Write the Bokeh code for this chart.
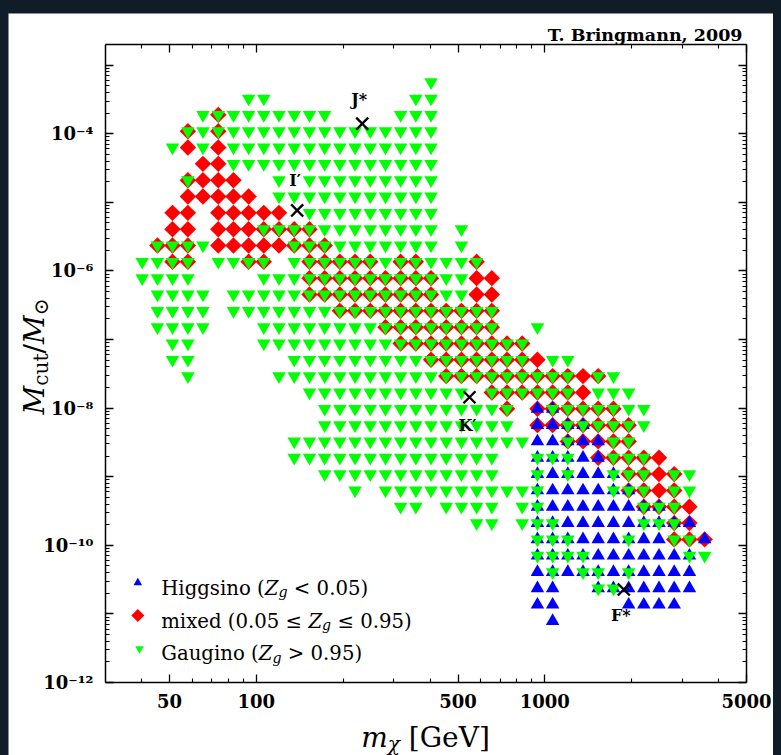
import math
import os
import glob

from bokeh.plotting import figure
from bokeh.models import (ColumnDataSource, Range1d, FixedTicker, LogAxis, Label,
                          LinearScale, CustomJSTickFormatter)
from bokeh.core.properties import value
from bokeh.embed import file_html
from bokeh.resources import INLINE

# ------------------------------------------------------------------ data
# neutralino mass grid (GeV): column centres of the scan
M_CHI_GRID = [40.2, 45.4, 51.2, 57.9, 65.3, 73.8, 83.3, 94.0, 106.1, 119.8,
              135.3, 152.8, 172.5, 194.7, 219.8, 248.2, 280.2, 316.3, 357.1, 403.1,
              455.1, 513.8, 580.1, 654.9, 739.4, 834.7, 942.5, 1064, 1201, 1356,
              1531, 1729, 1952, 2203, 2487, 2808, 3171, 3580]
# cutoff mass grid (solar masses): row centres of the scan (top to bottom)
M_CUT_GRID = [5.64e-4, 3.26e-4, 1.885e-4, 1.089e-4, 6.30e-5, 3.64e-5, 2.104e-5, 1.216e-5,
              7.03e-6, 4.06e-6, 2.349e-6, 1.358e-6, 7.85e-7, 4.54e-7, 2.62e-7, 1.516e-7,
              8.76e-8, 5.06e-8, 2.93e-8, 1.692e-8, 9.78e-9, 5.65e-9, 3.27e-9, 1.889e-9,
              1.092e-9, 6.31e-10, 3.65e-10, 2.109e-10, 1.219e-10, 7.05e-11, 4.07e-11,
              2.354e-11, 1.361e-11, 7.87e-12]

# occupied cells per row (index into M_CUT_GRID), as inclusive column-index runs
HIGGSINO_RUNS = [
    [], [], [], [], [], [], [], [], [], [],
    [], [], [], [], [], [], [], [], [], [],
    [(26, 27)],
    [(26, 29)],
    [(26, 30)],
    [(26, 30)],
    [(26, 31)],
    [(26, 32)],
    [(26, 34)],
    [(26, 36)],
    [(26, 34), (37, 37)],
    [(26, 36)],
    [(26, 36)],
    [(26, 27), (30, 36)],
    [(26, 27), (32, 35)],
    [(27, 27)],
]
MIXED_RUNS = [
    [], [], [(5, 5)], [(3, 3), (5, 5)], [(3, 3), (5, 5)], [(4, 5)], [(3, 6)], [(3, 7)],
    [(2, 3), (5, 9)], [(2, 3), (5, 11)], [(1, 3), (5, 12)],
    [(2, 3), (7, 8), (11, 15), (17, 18), (22, 22)],
    [(11, 19), (22, 23)], [(11, 19), (22, 23)], [(13, 23)], [(16, 23)], [(17, 25)],
    [(19, 26)], [(20, 30)], [(23, 29)],
    [(24, 24), (26, 31)], [(26, 32)], [(28, 32)], [(30, 34)], [(32, 35)], [(32, 35)],
    [(33, 36)], [(35, 36)], [(35, 37)],
    [], [], [], [], [],
]
GAUGINO_RUNS = [
    [(19, 19)],
    [(7, 8), (18, 19)],
    [(4, 12), (17, 19)],
    [(3, 19)],
    [(2, 2), (4, 4), (6, 19)],
    [(6, 19)],
    [(3, 3), (9, 9), (11, 19)],
    [(9, 19)],
    [(11, 19)],
    [(8, 19), (21, 21)],
    [(1, 4), (10, 19), (21, 21)],
    [(0, 3), (5, 8), (10, 22)],
    [(0, 3), (8, 21)],
    [(1, 4), (6, 21)],
    [(1, 4), (6, 23)],
    [(1, 4), (8, 23), (26, 26)],
    [(2, 3), (8, 25)],
    [(2, 3), (10, 25), (27, 28)],
    [(3, 3), (9, 28), (30, 31)],
    [(11, 21), (23, 28), (30, 32)],
    [(12, 24), (27, 33)],
    [(12, 24), (28, 33)],
    [(10, 25), (28, 28), (31, 32)],
    [(10, 23), (26, 28), (31, 33)],
    [(12, 23), (26, 26), (28, 28), (31, 33), (35, 36)],
    [(14, 14), (16, 26), (31, 33), (35, 36)],
    [(17, 18), (20, 23), (25, 26), (33, 35)],
    [(22, 23), (25, 27), (33, 35)],
    [(26, 28), (32, 32), (35, 36)],
    [(26, 29), (36, 37)],
    [(27, 27), (29, 30), (32, 32)],
    [(30, 31)],
    [],
    [],
]

# benchmark models
BENCH_NAMES = ["J*", "I\u2032", "K\u2032", "F*"]
BENCH_MCHI = [232.8, 138.5, 548.0, 1878.0]
BENCH_MCUT = [1.40e-4, 7.61e-6, 1.44e-8, 2.27e-11]

# axes
X_MIN, X_MAX = 30.0, 5000.0
Y_MIN, Y_MAX = 1e-12, 2e-3
X_TICK_VALUES = [50, 100, 500, 1000, 5000]
X_TICK_LABELS = ["50", "100", "500", "1000", "5000"]
X_MINOR_VALUES = [40, 60, 70, 80, 90, 200, 300, 400, 600, 700, 800, 900, 2000, 3000, 4000]
Y_DECADES = [1e-12, 1e-11, 1e-10, 1e-9, 1e-8, 1e-7, 1e-6, 1e-5, 1e-4, 1e-3]
Y_TICK_VALUES = [1e-12, 1e-10, 1e-8, 1e-6, 1e-4]
Y_TICK_LABELS = ["10\u207b\u00b9\u00b2", "10\u207b\u00b9\u2070", "10\u207b\u2078",
                 "10\u207b\u2076", "10\u207b\u2074"]

# ------------------------------------------------------------------ layout constants (pixels)
W, H = 765, 742                      # canvas
BOX_L, BOX_R, BOX_T, BOX_B = 97, 27, 31, 73   # plot-box margins inside the canvas
BENCH_DX = [-3, -2, -2, -3]
BENCH_DY = [-24, -30, 28, 26]
KEY_X = [129.3, 129.3, 131.0]        # legend key centres, px from canvas lower-left
KEY_Y = [172.7, 140.0, 106.7]
LEG_TEXT_X = 152.7
LEG_BASE_Y = [167.0, 134.0, 101.7]
FONT = "DejaVu Serif"
NB = "\u00a0"

# ------------------------------------------------------------------ text measuring helpers
try:
    from PIL import ImageFont
except Exception:
    ImageFont = None

_FONT_FILES = {"normal": "DejaVuSerif.ttf", "italic": "DejaVuSerif-Italic.ttf",
               "bold": "DejaVuSerif-Bold.ttf"}
_FONT_PATHS = {}
_FONT_OBJS = {}


def _font_path(style):
    if style in _FONT_PATHS:
        return _FONT_PATHS[style]
    fname = _FONT_FILES.get(style, "DejaVuSerif.ttf")
    found = None
    for root in ("/usr/share/fonts", "/usr/local/share/fonts",
                 os.path.expanduser("~/.fonts"), os.path.expanduser("~/.local/share/fonts")):
        if not os.path.isdir(root):
            continue
        hits = glob.glob(os.path.join(root, "**", fname), recursive=True)
        if hits:
            found = hits[0]
            break
    _FONT_PATHS[style] = found
    return found


def text_width(text, style, size):
    path = _font_path(style)
    if ImageFont is not None and path:
        try:
            if style not in _FONT_OBJS:
                _FONT_OBJS[style] = ImageFont.truetype(path, 200)
            return _FONT_OBJS[style].getlength(text) * size / 200.0
        except Exception:
            pass
    return 0.6 * size * len(text)


def seg_width(segments):
    return sum(text_width(t, st, sz) for t, st, sz, sh in segments)


# ------------------------------------------------------------------ figure (frame = whole canvas)
lx0, lx1 = math.log10(X_MIN), math.log10(X_MAX)
ly0, ly1 = math.log10(Y_MIN), math.log10(Y_MAX)
ppd_x = (W - BOX_L - BOX_R) / (lx1 - lx0)
ppd_y = (H - BOX_T - BOX_B) / (ly1 - ly0)
x_range = Range1d(10 ** (lx0 - BOX_L / ppd_x), 10 ** (lx1 + BOX_R / ppd_x))
y_range = Range1d(10 ** (ly0 - BOX_B / ppd_y), 10 ** (ly1 + BOX_T / ppd_y))

p = figure(width=W, height=H, x_axis_type="log", y_axis_type="log",
           x_range=x_range, y_range=y_range,
           output_backend="svg", toolbar_location=None, min_border=0,
           background_fill_color="white", border_fill_color="white")
p.title.visible = False
p.grid.visible = False
p.outline_line_color = None


def cells(runs):
    xs, ys = [], []
    for j, row_runs in enumerate(runs):
        for a, b in row_runs:
            for k in range(a, b + 1):
                xs.append(M_CHI_GRID[k])
                ys.append(M_CUT_GRID[j])
    return xs, ys


mx, my = cells(MIXED_RUNS)
hx, hy = cells(HIGGSINO_RUNS)
gx, gy = cells(GAUGINO_RUNS)

p.scatter(x="x", y="y", source=ColumnDataSource(dict(x=mx, y=my)),
          marker="square", angle=math.pi / 4, size=11.6,
          fill_color="#ff0000", line_color=None)
p.scatter(x="x", y="y", source=ColumnDataSource(dict(x=hx, y=hy)),
          marker="triangle", size=13.5, fill_color="#0000ff", line_color=None)
p.scatter(x="x", y="y", source=ColumnDataSource(dict(x=gx, y=gy)),
          marker="inverted_triangle", size=13.5, fill_color="#00ff00", line_color=None)

bench_src = ColumnDataSource(dict(x=BENCH_MCHI, y=BENCH_MCUT, name=BENCH_NAMES,
                                  dx=BENCH_DX, dy=BENCH_DY))
p.scatter(x="x", y="y", source=bench_src, marker="x", size=17,
          line_color="black", line_width=2.4)
p.text(x="x", y="y", text="name", x_offset="dx", y_offset="dy", source=bench_src,
       text_font=value(FONT), text_font_style=value("bold"), text_font_size=value("16px"),
       text_align="center", text_baseline="middle", text_color="black")

# ------------------------------------------------------------------ axes (drawn on the plot box)
y_minor = [m * d for d in Y_DECADES for m in range(2, 10) if m * d <= Y_MAX]

fmt_code = """
const lt = Math.log10(tick);
for (let i = 0; i < vals.length; i++) {
  if (Math.abs(lt - Math.log10(vals[i])) < 1e-6) { return txt[i]; }
}
return "";
"""


def style_axis(ax, ticks, minor, fmt, standoff, size, loc, bounds):
    ax.ticker = FixedTicker(ticks=ticks, minor_ticks=minor)
    ax.formatter = fmt
    ax.fixed_location = loc
    ax.bounds = bounds
    ax.major_tick_in = 8
    ax.major_tick_out = 0
    ax.minor_tick_in = 4
    ax.minor_tick_out = 0
    ax.major_tick_line_width = 1.3
    ax.minor_tick_line_width = 1.1
    ax.axis_line_width = 1.5
    ax.axis_line_color = "black"
    ax.major_label_standoff = standoff
    ax.major_label_text_font = FONT
    ax.major_label_text_font_style = "bold"
    ax.major_label_text_font_size = size
    ax.major_label_text_color = "black"


blank = CustomJSTickFormatter(code="return '';")
style_axis(p.xaxis[0], X_TICK_VALUES, X_MINOR_VALUES,
           CustomJSTickFormatter(args=dict(vals=X_TICK_VALUES, txt=X_TICK_LABELS), code=fmt_code),
           11, "18px", Y_MIN, (X_MIN, X_MAX))
style_axis(p.yaxis[0], Y_DECADES, y_minor,
           CustomJSTickFormatter(args=dict(vals=Y_TICK_VALUES, txt=Y_TICK_LABELS), code=fmt_code),
           12, "18px", X_MIN, (Y_MIN, Y_MAX))
top_ax = LogAxis()
right_ax = LogAxis()
style_axis(top_ax, X_TICK_VALUES, X_MINOR_VALUES, blank, 0, "1px", Y_MAX, (X_MIN, X_MAX))
style_axis(right_ax, Y_DECADES, y_minor, blank, 0, "1px", X_MAX, (Y_MIN, Y_MAX))
p.add_layout(top_ax, "above")
p.add_layout(right_ax, "right")


# ------------------------------------------------------------------ rich text helper
def rich_text(segments, x, y, rotated=False):
    pos = 0.0
    for text, style, size, shift in segments:
        if rotated:
            lx, ly, ang = x + shift, y + pos, math.pi / 2
        else:
            lx, ly, ang = x + pos, y - shift, 0.0
        p.add_layout(Label(x=lx, y=ly, x_units="screen", y_units="screen", text=text,
                           angle=ang, text_font=FONT, text_font_style=style,
                           text_font_size="%.2fpx" % size, text_color="black",
                           text_align="left", text_baseline="alphabetic"))
        pos += text_width(text, style, size)


# ------------------------------------------------------------------ legend (keys + text)
p.extra_x_ranges = {"key_x": Range1d(0, W)}
p.extra_y_ranges = {"key_y": Range1d(0, H)}
p.extra_x_scales = {"key_x": LinearScale()}
p.extra_y_scales = {"key_y": LinearScale()}
p.scatter(x=[KEY_X[0]], y=[KEY_Y[0]], x_range_name="key_x", y_range_name="key_y",
          marker="triangle", size=8.6, fill_color="#0000ff", line_color=None)
p.scatter(x=[KEY_X[1]], y=[KEY_Y[1]], x_range_name="key_x", y_range_name="key_y",
          marker="square", angle=math.pi / 4, size=9.2, fill_color="#ff0000", line_color=None)
p.scatter(x=[KEY_X[2]], y=[KEY_Y[2]], x_range_name="key_x", y_range_name="key_y",
          marker="inverted_triangle", size=8.6, fill_color="#00ff00", line_color=None)


def legend_line(before, after, L):
    return [(before, "normal", L, 0), ("Z", "italic", L, 0),
            ("g", "italic", 0.72 * L, 0.2 * L), (after, "normal", L, 0)]


L0 = 19.0
w0 = seg_width(legend_line("Higgsino (", NB + "< 0.05)", L0))
L = max(16.5, min(20.5, L0 * 207.0 / w0)) if w0 > 0 else L0
rich_text(legend_line("Higgsino (", NB + "< 0.05)", L), LEG_TEXT_X, LEG_BASE_Y[0])
rich_text(legend_line("mixed (0.05 \u2264" + NB, NB + "\u2264 0.95)", L), LEG_TEXT_X, LEG_BASE_Y[1])
rich_text(legend_line("Gaugino (", NB + "> 0.95)", L), LEG_TEXT_X, LEG_BASE_Y[2])

# ------------------------------------------------------------------ title and axis labels
p.add_layout(Label(x=734, y=721, x_units="screen", y_units="screen",
                   text="T. Bringmann, 2009", text_font=FONT, text_font_style="bold",
                   text_font_size="17.5px", text_color="black",
                   text_align="right", text_baseline="alphabetic"))


def xlabel_segs(S):
    return [("m", "italic", S, 0), ("\u03c7", "italic", 0.72 * S, 0.22 * S),
            (NB + "[GeV]", "normal", S, 0)]


def ylabel_segs(S):
    return [("M", "italic", S, 0), ("cut", "normal", 0.72 * S, 0.22 * S),
            ("/", "normal", S, 0), ("M", "italic", S, 0),
            ("\u2299", "normal", 0.72 * S, 0.22 * S)]


S0 = 28.0
wx = seg_width(xlabel_segs(S0))
S = max(24.0, min(28.0, S0 * 135.0 / wx)) if wx > 0 else S0
wx = seg_width(xlabel_segs(S))
rich_text(xlabel_segs(S), 417.0 - wx / 2.0, 18)
wy = seg_width(ylabel_segs(S))
rich_text(ylabel_segs(S), 26, 399.0 - wy / 2.0, rotated=True)

# ------------------------------------------------------------------ output
html = file_html(p, INLINE, title="Mcut vs m_chi")
css = ("<style>html,body{background:#101c28;overflow:hidden;}"
       "body{margin:13px 0 0 8px;padding:0;}</style>")
html = html.replace("</head>", css + "</head>", 1)
open("out.html", "w").write(html)
